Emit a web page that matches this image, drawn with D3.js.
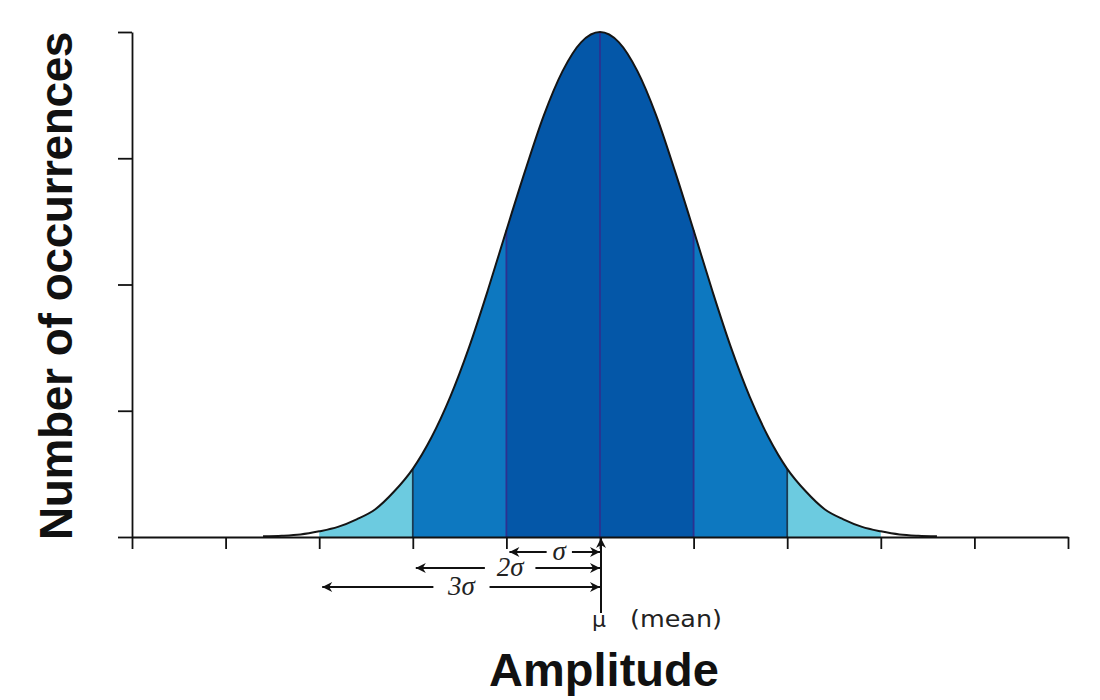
<!DOCTYPE html>
<html>
<head>
<meta charset="utf-8">
<script src="https://cdn.jsdelivr.net/npm/d3@7"></script>
<style>
  body { margin: 0; background: #fff; }
  svg { display: block; }
</style>
</head>
<body>
<div id="chart"></div>
<script>
// curve: position in sigma units, height in y-tick units (peak = 4)
const sigmaPos = [-3.6, -3.4, -3.2, -3.0, -2.8, -2.6, -2.4, -2.2, -2.0, -1.8, -1.6, -1.4, -1.2, -1.0,
  -0.8, -0.6, -0.4, -0.2, 0, 0.2, 0.4, 0.6, 0.8, 1.0, 1.2, 1.4, 1.6, 1.8, 2.0, 2.2, 2.4, 2.6, 2.8,
  3.0, 3.2, 3.4, 3.6]
const occurrences = [0.006, 0.01, 0.02, 0.045, 0.08, 0.14, 0.22, 0.36, 0.54, 0.79, 1.11, 1.50, 1.95, 2.43,
  2.90, 3.34, 3.69, 3.92, 4.00, 3.92, 3.69, 3.34, 2.90, 2.43, 1.95, 1.50, 1.11, 0.79, 0.54, 0.36, 0.22,
  0.14, 0.08, 0.045, 0.02, 0.01, 0.006]

// shaded bands (sigma units) and the lines between them
const bandStart = [-3, -2, -1, 1, 2]
const bandEnd = [-2, -1, 1, 2, 3]
const bandColor = ["#6ccbe0", "#0d78c0", "#0457a8", "#0d78c0", "#6ccbe0"]
const dividers = [-2, -1, 0, 1, 2]
const dividerColor = ["#1b3a52", "#2c3190", "#2c3190", "#2c3190", "#1b3a52"]

// axis ticks (no labels in the original)
const xTicks = [-5, -4, -3, -2, -1, 0, 1, 2, 3, 4, 5]
const yTicks = [0, 1, 2, 3, 4]

// sigma arrows under the axis
const arrowK = [1, 2, 3]
const arrowLabel = ["σ", "2σ", "3σ"]

const MARGIN = { TOP: 32, BOTTOM: 163, LEFT: 132, RIGHT: 32 }
const WIDTH = 1100 - MARGIN.LEFT - MARGIN.RIGHT
const HEIGHT = 700 - MARGIN.TOP - MARGIN.BOTTOM

const svg = d3.select("#chart").append("svg")
    .attr("width", 1100)
    .attr("height", 700)
const g = svg.append("g")
    .attr("transform", `translate(${MARGIN.LEFT}, ${MARGIN.TOP})`)

const x = d3.scaleLinear().domain([-5, 5]).range([0, WIDTH])
const y = d3.scaleLinear().domain([0, 4]).range([HEIGHT, 0])

const pts = sigmaPos.map((s, i) => ({ s: s, v: occurrences[i] }))
const heightAt = s => pts.find(p => Math.abs(p.s - s) < 1e-6).v

const defs = svg.append("defs")
bandStart.forEach((b, i) => {
    defs.append("clipPath").attr("id", "band" + i)
        .append("rect")
        .attr("x", x(b))
        .attr("y", 0)
        .attr("width", x(bandEnd[i]) - x(b))
        .attr("height", HEIGHT)
})
defs.append("marker")
    .attr("id", "head")
    .attr("viewBox", "0 0 10 10")
    .attr("refX", 10).attr("refY", 5)
    .attr("markerWidth", 16).attr("markerHeight", 10)
    .attr("markerUnits", "userSpaceOnUse")
    .attr("orient", "auto-start-reverse")
    .append("path")
    .attr("d", "M0,0 L10,5 L0,10 L3,5 Z")
    .attr("fill", "#111")

const area = d3.area()
    .x(d => x(d.s))
    .y0(HEIGHT)
    .y1(d => y(d.v))
    .curve(d3.curveMonotoneX)

bandStart.forEach((b, i) => {
    g.append("path")
        .datum(pts)
        .attr("clip-path", `url(#band${i})`)
        .attr("d", area)
        .attr("fill", bandColor[i])
})

g.selectAll(".divider")
    .data(dividers)
    .enter().append("line")
    .attr("class", "divider")
    .attr("x1", d => x(d)).attr("x2", d => x(d))
    .attr("y1", HEIGHT)
    .attr("y2", d => y(heightAt(d)))
    .attr("stroke", (d, i) => dividerColor[i])
    .attr("stroke-width", 1.8)

const line = d3.line()
    .x(d => x(d.s))
    .y(d => y(d.v))
    .curve(d3.curveMonotoneX)
g.append("path")
    .datum(pts)
    .attr("d", line)
    .attr("fill", "none")
    .attr("stroke", "#151515")
    .attr("stroke-width", 2)

// axes
const xAxisGroup = g.append("g")
    .attr("transform", `translate(0, ${HEIGHT})`)
    .call(d3.axisBottom(x).tickValues(xTicks).tickSize(12).tickSizeOuter(0).tickFormat(""))
const yAxisGroup = g.append("g")
    .call(d3.axisLeft(y).tickValues(yTicks).tickSize(14).tickSizeOuter(0).tickFormat(""))
g.selectAll(".domain, .tick line")
    .attr("stroke", "#111")
    .attr("stroke-width", 1.8)

// sigma arrows
const arrowY = [HEIGHT + 15, HEIGHT + 31, HEIGHT + 50]
const gapLeft = [-0.57, -1.23, -1.78]
const gapRight = [-0.3, -0.69, -1.18]
arrowK.forEach((k, i) => {
    g.append("line")
        .attr("x1", x(gapLeft[i])).attr("x2", x(-k) + 3)
        .attr("y1", arrowY[i]).attr("y2", arrowY[i])
        .attr("stroke", "#111").attr("stroke-width", 2)
        .attr("marker-end", "url(#head)")
    g.append("line")
        .attr("x1", x(gapRight[i])).attr("x2", x(0))
        .attr("y1", arrowY[i]).attr("y2", arrowY[i])
        .attr("stroke", "#111").attr("stroke-width", 2)
        .attr("marker-end", "url(#head)")
    g.append("text")
        .attr("x", (x(gapLeft[i]) + x(gapRight[i])) / 2)
        .attr("y", arrowY[i] + 8)
        .attr("text-anchor", "middle")
        .attr("font-family", "Liberation Serif, serif")
        .attr("font-style", "italic")
        .attr("font-size", 27)
        .attr("fill", "#222")
        .text(arrowLabel[i])
})

// mean marker
g.append("line")
    .attr("x1", x(0) + 1).attr("x2", x(0) + 1)
    .attr("y1", HEIGHT + 76).attr("y2", HEIGHT + 1)
    .attr("stroke", "#111").attr("stroke-width", 2)
    .attr("marker-end", "url(#head)")
g.append("text")
    .attr("x", x(0) - 8)
    .attr("y", HEIGHT + 90)
    .attr("font-family", "DejaVu Sans, sans-serif")
    .attr("font-size", 22)
    .attr("fill", "#222")
    .text("μ")
g.append("text")
    .attr("x", x(0) + 30)
    .attr("y", HEIGHT + 90)
    .attr("font-family", "DejaVu Sans, sans-serif")
    .attr("font-size", 23)
    .attr("textLength", 92)
    .attr("lengthAdjust", "spacingAndGlyphs")
    .attr("fill", "#222")
    .text("(mean)")

// axis titles
svg.append("text")
    .attr("x", 604)
    .attr("y", 686)
    .attr("text-anchor", "middle")
    .attr("font-family", "Liberation Sans, Arial, sans-serif")
    .attr("font-weight", "bold")
    .attr("font-size", 47)
    .attr("fill", "#111")
    .text("Amplitude")

svg.append("text")
    .attr("transform", "translate(72, 286) rotate(-90)")
    .attr("text-anchor", "middle")
    .attr("font-family", "Liberation Sans, Arial, sans-serif")
    .attr("font-weight", "bold")
    .attr("font-size", 46)
    .attr("letter-spacing", -0.4)
    .attr("fill", "#111")
    .text("Number of occurrences")
</script>
</body>
</html>
